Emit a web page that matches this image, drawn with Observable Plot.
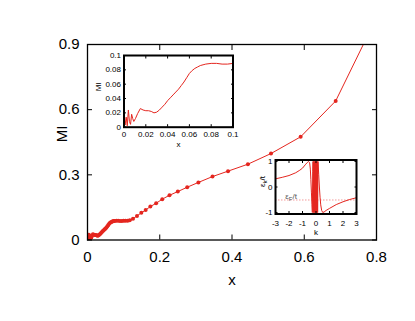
<!DOCTYPE html>
<html>
<head>
<meta charset="utf-8">
<script src="https://cdn.jsdelivr.net/npm/d3@7"></script>
<script src="https://cdn.jsdelivr.net/npm/@observablehq/plot@0.6"></script>
<style>
  html, body { margin: 0; padding: 0; background: white; }
  #wrap { position: relative; width: 415px; height: 321px; overflow: hidden; }
  #wrap > svg { position: absolute; }
</style>
</head>
<body>
<div id="wrap"></div>
<script>
// ---- data: low-x region (also shown in the upper-left inset) ----
const lowX  = [0, 0.001, 0.002, 0.003, 0.004, 0.005, 0.006, 0.007, 0.008, 0.009, 0.0105, 0.0125, 0.015, 0.0175, 0.02, 0.0225, 0.025, 0.0275, 0.03, 0.0325, 0.035, 0.0375, 0.04, 0.0425, 0.045, 0.0475, 0.05, 0.0525, 0.055, 0.0575, 0.06, 0.0625, 0.065, 0.0675, 0.07, 0.0725, 0.075, 0.08, 0.085, 0.09, 0.095, 0.1];
const lowMI = [0.012, 0.003, 0.014, 0.002, 0.024, 0.008, 0.004, 0.018, 0.012, 0.008, 0.012, 0.019, 0.026, 0.024, 0.023, 0.023, 0.022, 0.020, 0.021, 0.024, 0.028, 0.032, 0.037, 0.041, 0.045, 0.049, 0.053, 0.058, 0.063, 0.069, 0.075, 0.079, 0.082, 0.084, 0.086, 0.087, 0.088, 0.089, 0.089, 0.088, 0.088, 0.089];
// ---- data: rest of the main curve ----
const highX  = [0.105, 0.111, 0.117, 0.126, 0.137, 0.149, 0.161, 0.174, 0.190, 0.207, 0.227, 0.250, 0.276, 0.307, 0.346, 0.389, 0.444, 0.508, 0.590, 0.687, 0.790];
const highMI = [0.089, 0.089, 0.091, 0.098, 0.111, 0.125, 0.138, 0.154, 0.169, 0.188, 0.206, 0.223, 0.243, 0.265, 0.292, 0.317, 0.349, 0.398, 0.475, 0.640, 0.990];
// ---- data: dispersion inset ----
const kVals = [-3, -2.5, -2, -1.5, -1.2, -1, -0.8, -0.65, -0.55, -0.47, -0.42, -0.38, -0.34, -0.3, -0.27, -0.24, -0.22, -0.2, -0.18, -0.16, -0.14, -0.12, -0.1, -0.08, -0.06, -0.04, -0.02, 0, 0.02, 0.04, 0.06, 0.08, 0.1, 0.12, 0.15, 0.2, 0.25, 0.3, 0.35, 0.42, 0.5, 0.6, 0.75, 1, 1.5, 2, 2.5, 3];
const eVals = [0.32, 0.38, 0.45, 0.56, 0.66, 0.74, 0.87, 0.96, 1.0, 0.95, 0.7, 0.3, -0.2, -0.7, -1.0, 0.6, 1, -1, 1, -1, 1, -1, 1, -1, 1, -1, 1, -1, 1, -1, 1, -1, 1, -1, 1, 0.5, 0.0, -0.4, -0.7, -0.92, -1.0, -0.98, -0.92, -0.84, -0.69, -0.58, -0.49, -0.42];
const eFermi = -0.51;
// ---- tick labels ----
const mainXTicks = [0, 0.2, 0.4, 0.6, 0.8];
const mainYTicks = [0, 0.3, 0.6, 0.9];
const inXTicks = [0, 0.02, 0.04, 0.06, 0.08, 0.1];
const inYTicks = [0, 0.02, 0.04, 0.06, 0.08, 0.1];
const kTicks = [-3, -2, -1, 0, 1, 2, 3];
const eTicks = [-1, 0, 1];

const red = "#e4261f";
const font = "'Liberation Sans', Arial, sans-serif";
const fmt = d => String(d);

const lowData = lowX.map((x, i) => ({x, y: lowMI[i]}));
const mainData = lowData.concat(highX.map((x, i) => ({x, y: highMI[i]})));
const dispData = kVals.map((k, i) => ({k, e: eVals[i]}));

const wrap = document.getElementById("wrap");

// ---------- main plot ----------
const main = Plot.plot({
  width: 415, height: 321,
  marginLeft: 87, marginRight: 39, marginTop: 44, marginBottom: 81.5,
  style: {fontFamily: font, fontSize: "15px", background: "transparent", color: "black"},
  x: {domain: [0, 0.8]},
  y: {domain: [0, 0.9]},
  marks: [
    Plot.line(mainData, {x: "x", y: "y", stroke: red, strokeWidth: 1, clip: true}),
    Plot.dot(mainData, {x: "x", y: "y", r: 2, fill: red, stroke: null, clip: true}),
    Plot.axisX({ticks: mainXTicks, tickFormat: fmt, tickSize: -5, tickPadding: 16, label: null}),
    Plot.axisX({anchor: "top", ticks: mainXTicks, tickFormat: () => "", tickSize: -5, label: null}),
    Plot.axisY({ticks: mainYTicks, tickFormat: fmt, tickSize: -5, tickPadding: 13, label: null}),
    Plot.axisY({anchor: "right", ticks: mainYTicks, tickFormat: () => "", tickSize: -5, label: null}),
    Plot.frame({stroke: "black", strokeWidth: 1.3}),
    Plot.text(["x"], {frameAnchor: "bottom", dy: 40, lineAnchor: "middle", fontSize: 15}),
    Plot.text(["MI"], {frameAnchor: "left", dx: -25, rotate: -90, lineAnchor: "middle", fontSize: 15})
  ]
});
main.style.left = "0px"; main.style.top = "0px";
wrap.appendChild(main);

// ---------- inset 1: MI vs x (zoom) ----------
const in1 = Plot.plot({
  width: 155, height: 110,
  marginLeft: 38.5, marginRight: 7.5, marginTop: 10, marginBottom: 28.3,
  style: {fontFamily: font, fontSize: "8px", background: "transparent", color: "black"},
  x: {domain: [0, 0.1]},
  y: {domain: [0, 0.1]},
  marks: [
    Plot.frame({fill: "white", stroke: null}),
    Plot.line(lowData, {x: "x", y: "y", stroke: red, strokeWidth: 1}),
    Plot.axisX({ticks: inXTicks, tickFormat: fmt, tickSize: -2.5, tickPadding: 7, label: null}),
    Plot.axisX({anchor: "top", ticks: inXTicks, tickFormat: () => "", tickSize: -2.5, label: null}),
    Plot.axisY({ticks: inYTicks, tickFormat: fmt, tickSize: -2.5, tickPadding: 5.5, label: null}),
    Plot.axisY({anchor: "right", ticks: inYTicks, tickFormat: () => "", tickSize: -2.5, label: null}),
    Plot.frame({stroke: "black", strokeWidth: 2}),
    Plot.text(["x"], {frameAnchor: "bottom", dy: 17, lineAnchor: "middle", fontSize: 8}),
    Plot.text(["MI"], {frameAnchor: "left", dx: -26, rotate: -90, lineAnchor: "middle", fontSize: 8})
  ]
});
in1.style.left = "85px"; in1.style.top = "45px";
wrap.appendChild(in1);

// ---------- inset 2: dispersion ----------
const in2 = Plot.plot({
  width: 125, height: 100,
  marginLeft: 35, marginRight: 9, marginTop: 14.5, marginBottom: 31.5,
  style: {fontFamily: font, fontSize: "8px", background: "transparent", color: "black"},
  x: {domain: [-3, 3]},
  y: {domain: [-1.06, 1.06]},
  marks: [
    Plot.frame({fill: "white", stroke: null}),
    Plot.ruleY([eFermi], {stroke: "#f29a9a", strokeWidth: 1, strokeDasharray: "1.5,1.5"}),
    Plot.line(dispData, {x: "k", y: "e", stroke: red, strokeWidth: 1}),
    Plot.text(["ε_F/t"], {x: -1.85, y: -0.37, fontSize: 8, fill: "#555", lineAnchor: "middle"}),
    Plot.axisX({ticks: kTicks, tickFormat: fmt, tickSize: -2.5, tickPadding: 8.5, label: null}),
    Plot.axisX({anchor: "top", ticks: kTicks, tickFormat: () => "", tickSize: -2.5, label: null}),
    Plot.axisY({ticks: eTicks, tickFormat: fmt, tickSize: -2.5, tickPadding: 5.5, label: null}),
    Plot.axisY({anchor: "right", ticks: eTicks, tickFormat: () => "", tickSize: -2.5, label: null}),
    Plot.frame({stroke: "black", strokeWidth: 2}),
    Plot.text(["k"], {frameAnchor: "bottom", dy: 18, lineAnchor: "middle", fontSize: 8}),
    Plot.text(["ε_k/t"], {frameAnchor: "left", dx: -13, rotate: -90, lineAnchor: "middle", fontSize: 8})
  ]
});
in2.style.left = "240px"; in2.style.top = "145px";
wrap.appendChild(in2);

// subscripts for the inset-2 labels
d3.select(in2).selectAll("text").each(function () {
  const t = this.textContent;
  const m = t.match(/^(.*)_(.)(.*)$/);
  if (!m || this.querySelector("tspan")) return;
  const s = d3.select(this);
  s.text(null);
  s.append("tspan").text(m[1]);
  s.append("tspan").attr("dy", "2").attr("font-size", "6px").text(m[2]);
  s.append("tspan").attr("dy", "-2").text(m[3]);
});
</script>
</body>
</html>
